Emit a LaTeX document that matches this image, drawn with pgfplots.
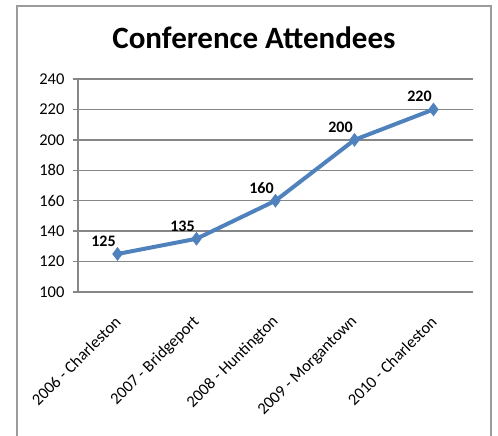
\documentclass[border=0pt]{standalone}
\usepackage{pgfplots}
\pgfplotsset{compat=1.18}
\usepackage{fontspec}
\setmainfont{Carlito}
\definecolor{gridgray}{RGB}{134,134,134}
\definecolor{framegray}{RGB}{155,155,155}
\definecolor{lineblue}{RGB}{79,129,189}
\begin{document}
\begin{tikzpicture}
\path[use as bounding box] (-78pt,-144pt) rectangle (420pt,292pt);
\draw[framegray, line width=1.5pt] (-61pt,-160pt) -- (-61pt,286pt) -- (413pt,286pt) -- (413pt,-160pt);
\node[font=\fontsize{31}{34}\selectfont\bfseries] at (176pt,254pt) {Conference Attendees};
\begin{axis}[
  scale only axis,
  width=395pt, height=213pt,
  xmin=-0.5, xmax=4.5,
  ymin=100, ymax=240,
  ytick={100,120,...,240},
  axis x line*=bottom,
  axis y line*=left,
  axis line style={draw=gridgray, line width=1.5pt, -},
  ymajorgrids,
  grid style={draw=gridgray, line width=1.5pt},
  tick align=outside,
  major tick length=5pt,
  ytick style={draw=gridgray, line width=1.5pt},
  xtick={0,1,2,3,4},
  xticklabels={2006 - Charleston, 2007 - Bridgeport, 2008 - Huntington, 2009 - Morgantown, 2010 - Charleston},
  xtick style={draw=none},
  extra x ticks={-0.5,0.5,1.5,2.5,3.5,4.5},
  extra x tick labels={},
  extra x tick style={grid=none, tick style={draw=gridgray, line width=1.5pt}},
  xticklabel style={rotate=45, anchor=east, xshift=-12pt, yshift=-16pt, font=\fontsize{16.5}{18}\selectfont},
  yticklabel style={xshift=-5pt, font=\fontsize{16.5}{18}\selectfont},
  /pgf/number format/assume math mode=true,
  clip=false,
]
\addplot[color=lineblue, line width=4pt, mark=diamond*, mark size=6.5pt, mark options={solid, line width=0.5pt},
  nodes near coords, every node near coord/.append style={font=\fontsize{16}{18}\selectfont\bfseries, color=black, anchor=south, xshift=-14pt, yshift=4pt}]
coordinates {(0,125) (1,135) (2,160) (3,200) (4,220)};
\end{axis}
\end{tikzpicture}
\end{document}
